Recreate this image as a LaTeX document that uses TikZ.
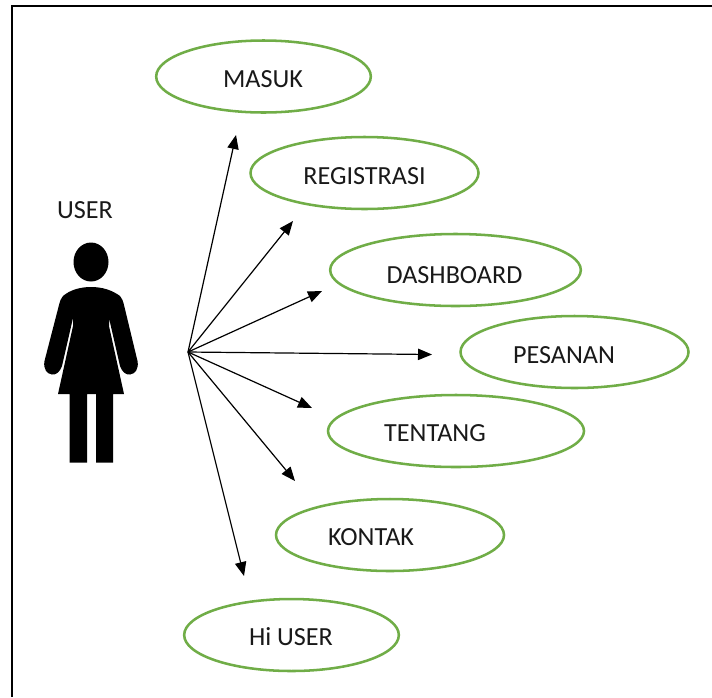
\documentclass[tikz,border=0pt]{standalone}
\usepackage{fontspec}
\setmainfont{Carlito}
\usetikzlibrary{shapes.geometric,arrows.meta}
\definecolor{ovalgreen}{HTML}{70AD47}
\tikzset{
  usecase/.style={ellipse,draw=ovalgreen,line width=1.9pt,fill=white,minimum width=#1,inner sep=0pt},
  lbl/.style={font=\fontsize{19.6pt}{22pt}\selectfont,text=black!90,inner sep=0pt},
  conn/.style={line width=0.9pt,-{Triangle[length=10.5pt,width=8.5pt]}},
  frameline/.style={line width=1.7pt,black}
}
\begin{document}
\begin{tikzpicture}[x=0.75pt,y=-0.75pt]
\useasboundingbox (0,0) rectangle (712,697);
\draw[frameline] (12,697) -- (12,6) -- (712,6);
% ellipses
\node[usecase=161pt,minimum height=54pt] (e1) at (263.5,76.5) {};
\node[usecase=171pt,minimum height=54pt] (e2) at (364.5,173) {};
\node[usecase=188pt,minimum height=54pt] (e3) at (455.5,270) {};
\node[usecase=171pt,minimum height=54pt] (e4) at (574.5,352) {};
\node[usecase=192pt,minimum height=54pt] (e5) at (456,431) {};
\node[usecase=171pt,minimum height=54pt] (e6) at (390,535) {};
\node[usecase=161pt,minimum height=54pt] (e7) at (291.5,635) {};
% labels
\node[lbl] (t1) at (263,79) {MASUK};
\node[lbl] (t2) at (364.5,176) {REGISTRASI};
\node[lbl] (t3) at (454.5,275) {DASHBOARD};
\node[lbl] (t4) at (564,355) {PESANAN};
\node[lbl] (t5) at (435,433) {TENTANG};
\node[lbl] (t6) at (371,537) {KONTAK};
\node[lbl] (t7) at (291,637) {Hi USER};
\node[lbl] (tu) at (85,210) {USER};
% actor
\fill[black] (91,262) ellipse (17.5 and 19.5);
\fill[black]
  (91,287)
  .. controls (102,287) and (112,290) .. (120,296)
  .. controls (122,298) and (123,301) .. (124,305)
  -- (137.5,361)
  .. controls (139,369) and (135,374) .. (130,374.5)
  .. controls (126,375) and (122,372) .. (120,366)
  -- (109,318)
  -- (109,326)
  -- (124,394)
  -- (113,394) -- (113,462.5) -- (96,462.5) -- (96,394)
  -- (87,394) -- (87,462.5) -- (69.5,462.5) -- (69.5,394)
  -- (58,394)
  -- (73,326) -- (73,318)
  -- (62,366)
  .. controls (60,372) and (56,375) .. (52,374.5)
  .. controls (47,374) and (43,369) .. (44.5,361)
  -- (59,305)
  .. controls (60,301) and (61,298) .. (63,296)
  .. controls (70,290) and (80,287) .. (91,287) -- cycle;
% connectors
\coordinate (hub) at (188,352);
\coordinate (a1) at (236,135);
\coordinate (a2) at (293,221);
\coordinate (a3) at (322,291);
\coordinate (a4) at (432,354.5);
\coordinate (a5) at (312,408);
\coordinate (a6) at (295,481);
\coordinate (a7) at (244,576);
\foreach \i in {1,...,7} \draw[conn] (hub) -- (a\i);
\end{tikzpicture}
\end{document}
